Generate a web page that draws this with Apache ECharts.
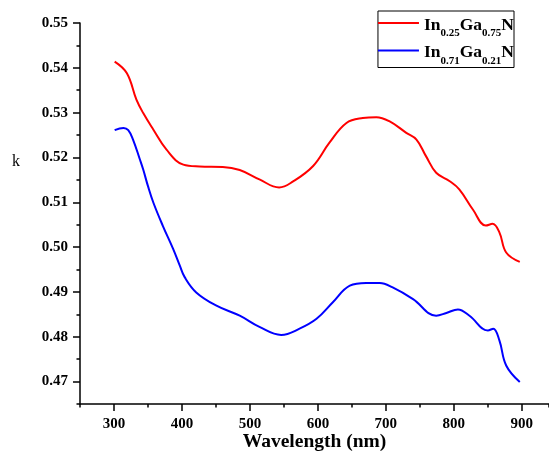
<!DOCTYPE html>
<html>
<head>
<meta charset="utf-8">
<script src="https://cdn.jsdelivr.net/npm/echarts@6/dist/echarts.min.js"></script>
<style>html,body{margin:0;padding:0;background:#fff}#c{width:549px;height:454px}</style>
</head>
<body>
<div id="c"></div>
<script>
const seriesNames = ['In0.25Ga0.75N', 'In0.71Ga0.21N'];
const redWavelength = [301,319,333,343,358,377,402,426,460,485,514,543,563,593,617,642,666,686,705,730,745,759,774,794,808,828,847,857,867,877,897];
const redK = [0.5414,0.5388,0.5329,0.5299,0.5262,0.5218,0.5184,0.5180,0.5179,0.5172,0.5151,0.5133,0.5146,0.5181,0.5233,0.5277,0.5288,0.5290,0.5281,0.5255,0.5240,0.5203,0.5166,0.5147,0.5129,0.5084,0.5048,0.5052,0.5033,0.4988,0.4967];
const blueWavelength = [301,314,321,328,338,343,350,358,372,387,397,404,421,450,485,514,546,573,598,622,647,671,691,710,740,774,789,806,823,850,858,867,877,897];
const blueK = [0.5261,0.5266,0.5261,0.5240,0.5196,0.5173,0.5136,0.5099,0.5047,0.4996,0.4958,0.4933,0.4899,0.4870,0.4847,0.4822,0.4804,0.4818,0.4840,0.4877,0.4914,0.4920,0.4920,0.4910,0.4884,0.4847,0.4853,0.4861,0.4847,0.4814,0.4818,0.4792,0.4736,0.4699];
const xTicks = [300,400,500,600,700,800,900];
const yTicks = [0.47,0.48,0.49,0.50,0.51,0.52,0.53,0.54,0.55];
const seriesColors = ['#ff0000', '#0000ff'];

const FONT = 'Liberation Serif';
const chart = echarts.init(document.getElementById('c'), null, {renderer: 'canvas'});
const zip = (a, b) => a.map((v, i) => [v, b[i]]);
const lineAxis = {lineStyle: {color: '#000', width: 1.5}};

chart.setOption({
  animation: false,
  backgroundColor: '#fff',
  grid: {left: 80, right: 0, top: 23, bottom: 50, containLabel: false, outerBoundsMode: 'none'},
  xAxis: [
    {
      type: 'value', min: 250, max: 940, position: 'bottom',
      axisLine: lineAxis,
      axisTick: {customValues: xTicks, length: 7, lineStyle: {color: '#000', width: 1.5}},
      axisLabel: {customValues: xTicks, fontFamily: FONT, fontWeight: 'bold', fontSize: 15, color: '#000', margin: 13},
      splitLine: {show: false},
      name: 'Wavelength (nm)', nameLocation: 'middle', nameGap: 28, nameMoveOverlap: false,
      nameTextStyle: {fontFamily: FONT, fontWeight: 'bold', fontSize: 19.5, color: '#000'}
    },
    {
      type: 'value', min: 250, max: 940, interval: 50, position: 'bottom',
      axisLine: {show: false},
      axisTick: {length: 3.5, lineStyle: {color: '#000', width: 1.5}},
      axisLabel: {show: false}, splitLine: {show: false}
    }
  ],
  yAxis: [
    {
      type: 'value', min: 0.465, max: 0.55, position: 'left',
      axisLine: {show: true, lineStyle: {color: '#000', width: 1.5}},
      axisTick: {show: true, customValues: yTicks, length: 7, lineStyle: {color: '#000', width: 1.5}},
      axisLabel: {customValues: yTicks, fontFamily: FONT, fontWeight: 'bold', fontSize: 15, color: '#000', margin: 12,
        formatter: v => v.toFixed(2)},
      splitLine: {show: false}
    },
    {
      type: 'value', min: 0.465, max: 0.55, interval: 0.005, position: 'left',
      axisLine: {show: false},
      axisTick: {show: true, length: 3.5, lineStyle: {color: '#000', width: 1.5}},
      axisLabel: {show: false}, splitLine: {show: false}
    }
  ],
  legend: {
    orient: 'vertical', right: 35, top: 11,
    data: seriesNames.map((n, i) => ({name: n, icon: 'rect', itemStyle: {color: seriesColors[i]}})),
    itemWidth: 41, itemHeight: 2, itemGap: 2.5,
    padding: [3, 0, 1, 0],
    borderColor: '#000', borderWidth: 1,
    formatter: name => {
      const m = name.match(/In([\d.]+)Ga([\d.]+)N/);
      return '{b|In}{s|' + m[1] + '}{b|Ga}{s|' + m[2] + '}{b|N}';
    },
    textStyle: {
      padding: [0, 0, 0, 0],
      rich: {
        b: {fontFamily: FONT, fontWeight: 'bold', fontSize: 17.5, color: '#000', lineHeight: 18, verticalAlign: 'top', padding: [2, 0, 0, 0]},
        s: {fontFamily: FONT, fontWeight: 'bold', fontSize: 11, color: '#000', lineHeight: 11, verticalAlign: 'top', padding: [14, 0, 0, 0]}
      }
    }
  },
  graphic: [
    {type: 'text', left: 12, top: 154, style: {text: 'k', font: '16px "Liberation Serif"', fill: '#000'}}
  ],
  series: seriesNames.map((n, i) => ({
    name: n, type: 'line', xAxisIndex: 0, yAxisIndex: 0,
    data: i === 0 ? zip(redWavelength, redK) : zip(blueWavelength, blueK),
    smooth: 0.4, symbol: 'none',
    lineStyle: {color: seriesColors[i], width: 2}, itemStyle: {color: seriesColors[i]}
  }))
});
</script>
</body>
</html>
